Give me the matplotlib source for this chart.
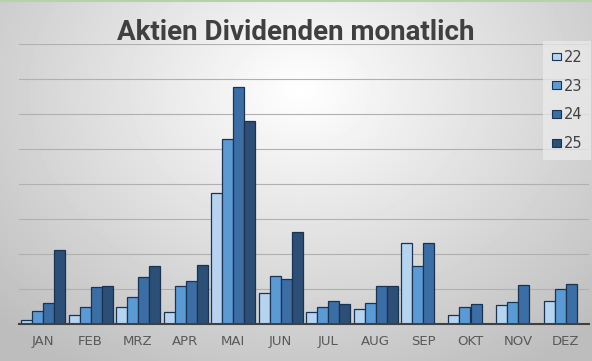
import numpy as np
import matplotlib.pyplot as plt
from matplotlib.patches import Patch

months = ['JAN', 'FEB', 'MRZ', 'APR', 'MAI', 'JUN', 'JUL', 'AUG', 'SEP', 'OKT', 'NOV', 'DEZ']
years = ['22', '23', '24', '25']

d22 = [0.11, 0.25, 0.50, 0.33, 3.73, 0.90, 0.33, 0.42, 2.31, 0.25, 0.53, 0.65]
d23 = [0.36, 0.50, 0.76, 1.08, 5.28, 1.36, 0.48, 0.59, 1.65, 0.48, 0.62, 0.99]
d24 = [0.59, 1.05, 1.33, 1.22, 6.76, 1.29, 0.65, 1.08, 2.31, 0.56, 1.11, 1.13]
d25 = [2.11, 1.08, 1.65, 1.68, 5.79, 2.62, 0.56, 1.08, None, None, None, None]

farben = ['#b6d4f0', '#5b9bd5', '#3a6ea5', '#2c4f78']
rand = '#1b3350'

fig = plt.figure(figsize=(5.92, 3.61), dpi=100)

# Hintergrund mit Verlauf
bg = fig.add_axes([0, 0, 1, 1])
yy, xx = np.mgrid[0:361, 0:592]
r = np.sqrt(((xx - 300) / 420.0) ** 2 + ((yy - 90) / 330.0) ** 2)
grau = np.clip(1.0 - 0.26 * r, 0.74, 1.0)
bg.imshow(grau, cmap='gray', vmin=0, vmax=1, aspect='auto', extent=[0, 1, 0, 1])
bg.plot([0, 1], [0.998, 0.998], color='#b5d3a8', lw=1.5)
bg.set_xlim(0, 1)
bg.set_ylim(0, 1)
bg.axis('off')

ax = fig.add_axes([19.25 / 592, 37 / 361, 570 / 592, 280 / 361])
ax.patch.set_alpha(0)

x = np.arange(len(months))
w = 11 / 47.5
reihen = [d22, d23, d24, d25]
for k, werte in enumerate(reihen):
    xs = [x[i] + (k - 1.5) * w for i in range(len(werte)) if werte[i] is not None]
    hs = [v for v in werte if v is not None]
    ax.bar(xs, hs, width=w, color=farben[k], edgecolor=rand, linewidth=0.9, zorder=3)

ax.set_xlim(-0.5, 11.5)
ax.set_ylim(0, 8)
ax.set_yticks(np.arange(1, 9))
ax.yaxis.grid(True, color='#b0b0b0', linewidth=0.8, zorder=0)
ax.tick_params(axis='y', length=0, labelleft=False)
ax.set_xticks(x)
ax.set_xticklabels(months, color='#595959', fontsize=9.5)
ax.tick_params(axis='x', length=0, pad=8)
for s in ['top', 'right', 'left']:
    ax.spines[s].set_visible(False)
ax.spines['bottom'].set_color('#404040')
ax.spines['bottom'].set_linewidth(1.5)
ax.spines['bottom'].set_zorder(4)

fig.text(0.5, 1 - 32 / 361, 'Aktien Dividenden monatlich', ha='center', va='center',
         fontsize=20, fontweight='bold', color='#404040', family='Roboto')

handles = [Patch(facecolor=farben[k], edgecolor=rand, linewidth=0.8, label=years[k]) for k in range(4)]
leg = fig.legend(handles=handles, loc='upper left', bbox_to_anchor=(543 / 592, 1 - 41 / 361),
                 fontsize=10.5, handlelength=0.6, handleheight=0.45, handletextpad=0.2,
                 labelspacing=0.95, borderpad=0.6, borderaxespad=0, frameon=True, fancybox=False)
leg.get_frame().set_facecolor('#ececec')
leg.get_frame().set_edgecolor('none')
leg.get_frame().set_alpha(0.7)
for t in leg.get_texts():
    t.set_color('#404040')

fig.savefig('out.png', dpi=100)
